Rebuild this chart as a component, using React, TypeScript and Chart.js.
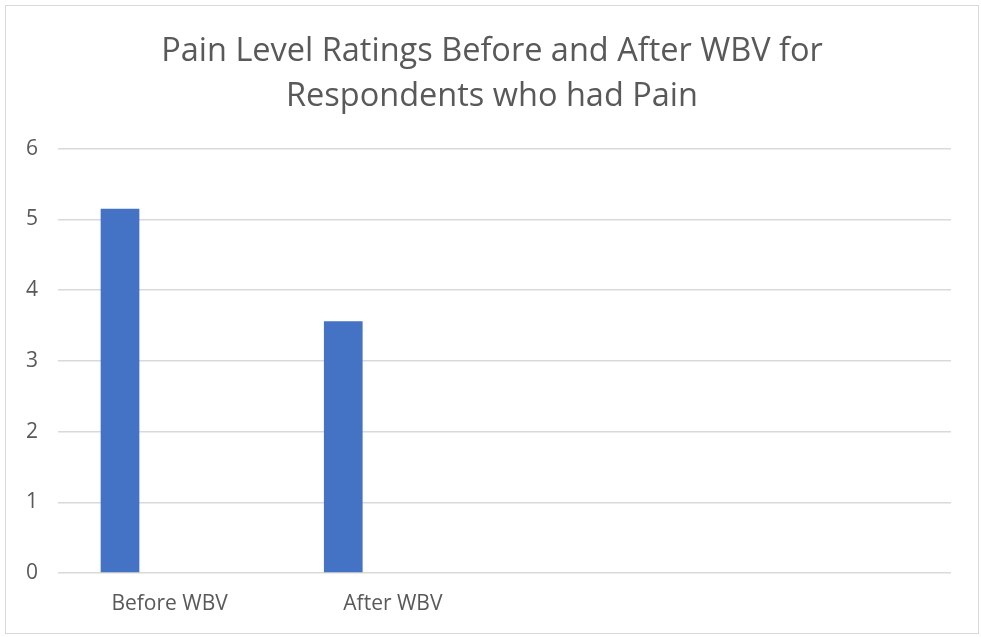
import React, { useEffect, useRef } from "react";
import { Chart, registerables } from "chart.js";
Chart.register(...registerables);

const categories = ["Before WBV", "After WBV", "", ""];
const painRatings = [5.15, 3.56, null, null];
const emptySeries = [null, null, null, null];
const yTicks = [0, 1, 2, 3, 4, 5, 6];
const titleLines = ["Pain Level Ratings Before and After WBV for", "Respondents who had Pain"];

const FONT = "'Open Sans', 'DejaVu Sans', sans-serif";
const TEXT = "#595959";

export default function App() {
  const ref = useRef<HTMLCanvasElement>(null);
  useEffect(() => {
    document.body.style.margin = "0";
    const chart = new Chart(ref.current!, {
      type: "bar",
      data: {
        labels: categories,
        datasets: [
          { label: "Pain rating", data: painRatings, backgroundColor: "#4472C4", borderWidth: 0, categoryPercentage: 0.889, barPercentage: 0.39 },
          { label: "Series 2", data: emptySeries, backgroundColor: "#ED7D31", borderWidth: 0, categoryPercentage: 0.889, barPercentage: 0.39 },
        ],
      },
      options: {
        responsive: false,
        animation: false,
        layout: { padding: 0 },
        plugins: {
          legend: { display: false },
          tooltip: { enabled: false },
          title: {
            display: true,
            text: titleLines,
            color: TEXT,
            font: { family: FONT, size: 32.5, weight: "normal", lineHeight: 1.38 },
            padding: { top: 23, bottom: 30 },
          },
        },
        scales: {
          x: {
            grid: { display: false, drawTicks: false },
            border: { display: false },
            ticks: { color: TEXT, font: { family: FONT, size: 21 }, padding: 18, maxRotation: 0, autoSkip: false },
            afterFit: (s: any) => { s.height = 60; },
          },
          y: {
            min: 0,
            max: 6,
            afterBuildTicks: (s: any) => { s.ticks = yTicks.map((v) => ({ value: v })); },
            afterFit: (s: any) => { s.width = 52; },
            ticks: { color: TEXT, font: { family: FONT, size: 21 }, padding: 20 },
            grid: { color: "#d9d9d9", lineWidth: 1.5, drawTicks: false },
            border: { display: false },
          },
          yRight: {
            position: "right",
            display: true,
            min: 0,
            max: 6,
            grid: { display: false, drawTicks: false },
            border: { display: false },
            ticks: { display: false },
            afterFit: (s: any) => { s.width = 27; },
          },
        },
      },
    });
    return () => chart.destroy();
  }, []);
  return (
    <div style={{ position: "absolute", left: 5, top: 5, width: 974, height: 629, border: "1px solid #d9d9d9", boxSizing: "border-box", background: "#fff" }}>
      <canvas ref={ref} width={972} height={627} style={{ display: "block" }} />
    </div>
  );
}
